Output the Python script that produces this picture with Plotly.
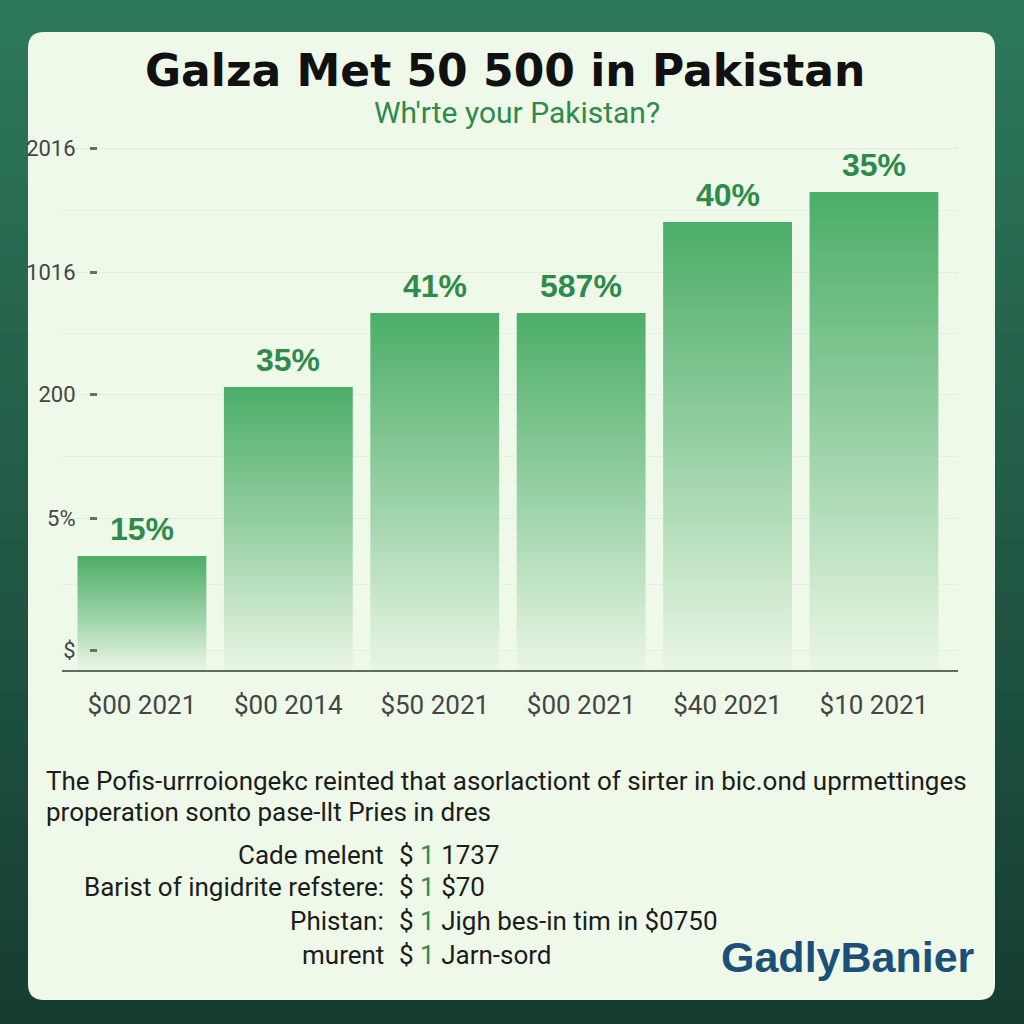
import plotly.graph_objects as go

# ---------------- data ----------------
categories = ["$00 2021", "$00 2014", "$50 2021", "$00 2021", "$40 2021", "$10 2021"]
values = [114, 283, 357, 357, 448, 478]
bar_labels = ["15%", "35%", "41%", "587%", "40%", "35%"]
ytick_vals = [20, 152, 276, 398, 522]
ytick_text = ["$", "5%", "200", "1016", "2016"]

title_text = "Galza Met 50 500 in Pakistan"
subtitle_text = "Wh'rte your Pakistan?"
note_lines = [
    "The Pofis-urrroiongekc reinted that asorlactiont of sirter in bic.ond uprmettinges",
    "properation sonto pase-llt Pries in dres",
]
row_labels = ["Cade melent", "Barist of ingidrite refstere:", "Phistan:", "murent"]
row_values = ["1737", "$70", "Jigh bes-in tim in $0750", "Jarn-sord"]
logo_text = "GadlyBanier"

# ---------------- layout geometry ----------------
W, H = 1024, 1024
ML, MR, MT, MB = 62, 66, 140, 354
PW, PH = W - ML - MR, H - MT - MB
BAR_HALF = 0.44
XR = [-0.546, 5.574]


def px2x(px):
    return (px - ML) / PW


def py2y(py):
    return (H - MB - py) / PH


GREEN_TXT = "#2e8b4a"
NARROW = "Liberation Sans Narrow, Roboto, Arial Narrow, sans-serif"
BOLD = "Liberation Sans, Arial, sans-serif"
HEAVY = "DejaVu Sans, Liberation Sans, sans-serif"

fig = go.Figure()

# bars drawn as filled shapes with vertical gradient
for i, v in enumerate(values):
    fig.add_trace(go.Scatter(
        x=[i - BAR_HALF, i - BAR_HALF, i + BAR_HALF, i + BAR_HALF, i - BAR_HALF],
        y=[0, v, v, 0, 0],
        mode="lines", fill="toself", line=dict(width=0),
        fillgradient=dict(type="vertical", start=0, stop=v,
                          colorscale=[[0, "#eaf6e6"], [0.5, "#97d0a3"], [1, "#4cad69"]]),
        showlegend=False, hoverinfo="skip",
    ))

annotations = []
for i, (v, lab) in enumerate(zip(values, bar_labels)):
    annotations.append(dict(
        x=i, y=v, xref="x", yref="y", text=lab, showarrow=False,
        xanchor="center", yanchor="bottom", yshift=7,
        font=dict(family=BOLD, size=32, color=GREEN_TXT, weight="bold"),
    ))

# title & subtitle
annotations.append(dict(x=px2x(505), y=py2y(70), xref="paper", yref="paper",
                        text=title_text, showarrow=False, xanchor="center", yanchor="middle",
                        font=dict(family=HEAVY, size=44, color="#111111", weight="bold")))
annotations.append(dict(x=px2x(517), y=py2y(113), xref="paper", yref="paper",
                        text=subtitle_text, showarrow=False, xanchor="center", yanchor="middle",
                        font=dict(family=NARROW, size=30, color=GREEN_TXT)))

# footnote
for k, line in enumerate(note_lines):
    annotations.append(dict(x=px2x(44), y=py2y(781 + 31 * k), xref="paper", yref="paper",
                            text=line, showarrow=False, xanchor="left", yanchor="middle",
                            font=dict(family=NARROW, size=26, color="#1c1c1c")))

row_y = [855, 887, 921, 955]
for lab, val, yy in zip(row_labels, row_values, row_y):
    annotations.append(dict(x=px2x(386), y=py2y(yy), xref="paper", yref="paper",
                            text=lab, showarrow=False, xanchor="right", yanchor="middle",
                            font=dict(family=NARROW, size=26, color="#1c1c1c")))
    annotations.append(dict(x=px2x(397), y=py2y(yy), xref="paper", yref="paper",
                            text=f"$ <span style='color:{GREEN_TXT}'>1</span> {val}",
                            showarrow=False, xanchor="left", yanchor="middle",
                            font=dict(family=NARROW, size=26, color="#1c1c1c")))

annotations.append(dict(x=px2x(848), y=py2y(957), xref="paper", yref="paper",
                        text=logo_text, showarrow=False, xanchor="center", yanchor="middle",
                        font=dict(family=BOLD, size=43, color="#1d5078", weight="bold")))

# background gradient bands + card
shapes = []
top_c = (0x2d, 0x78, 0x5a)
bot_c = (0x16, 0x3d, 0x31)
NB = 40
for b in range(NB):
    t = b / (NB - 1)
    c = tuple(int(round(top_c[j] + (bot_c[j] - top_c[j]) * t)) for j in range(3))
    y0 = H * b / NB
    y1 = H * (b + 1) / NB + 1
    shapes.append(dict(type="rect", xref="paper", yref="paper", layer="below",
                       x0=px2x(0), x1=px2x(W), y0=py2y(y0), y1=py2y(y1),
                       fillcolor="rgb(%d,%d,%d)" % c, line=dict(width=0)))

cx0, cx1, cy0, cy1, r = 28, 995, 32, 1000, 16
rx, ry = r / PW, r / PH
X0, X1, Yt, Yb = px2x(cx0), px2x(cx1), py2y(cy0), py2y(cy1)
path = (f"M {X0 + rx},{Yt} L {X1 - rx},{Yt} Q {X1},{Yt} {X1},{Yt - ry} "
        f"L {X1},{Yb + ry} Q {X1},{Yb} {X1 - rx},{Yb} L {X0 + rx},{Yb} "
        f"Q {X0},{Yb} {X0},{Yb + ry} L {X0},{Yt - ry} Q {X0},{Yt} {X0 + rx},{Yt} Z")
shapes.append(dict(type="path", xref="paper", yref="paper", layer="below", path=path,
                   fillcolor="#eef9ea", line=dict(width=0)))

mids = [(a + b) / 2 for a, b in zip(ytick_vals[:-1], ytick_vals[1:])]

fig.update_layout(
    width=W, height=H, autosize=False,
    margin=dict(l=ML, r=MR, t=MT, b=MB),
    paper_bgcolor="#22604a", plot_bgcolor="rgba(0,0,0,0)",
    showlegend=False,
    shapes=shapes, annotations=annotations,
    xaxis=dict(range=XR, tickmode="array", tickvals=list(range(len(categories))),
               ticktext=categories, showgrid=False, zeroline=False,
               showline=True, linecolor="#5d6b60", linewidth=2, ticks="",
               ticklabelstandoff=11,
               tickfont=dict(family=NARROW, size=26, color="#454545"), fixedrange=True),
    yaxis=dict(range=[0, PH], tickmode="array", tickvals=ytick_vals, ticktext=ytick_text,
               anchor="free", position=px2x(97), showline=False, zeroline=False,
               ticks="outside", ticklen=7, tickwidth=3, tickcolor="#6d6d6d",
               ticklabelstandoff=10,
               showgrid=True, gridcolor="#e2eedd", gridwidth=1,
               minor=dict(tickmode="array", tickvals=mids, showgrid=True,
                          gridcolor="#e5f1e0", ticks=""),
               tickfont=dict(family=NARROW, size=22, color="#454545"), fixedrange=True),
)

fig.write_html("out.html", config={"displayModeBar": False})
